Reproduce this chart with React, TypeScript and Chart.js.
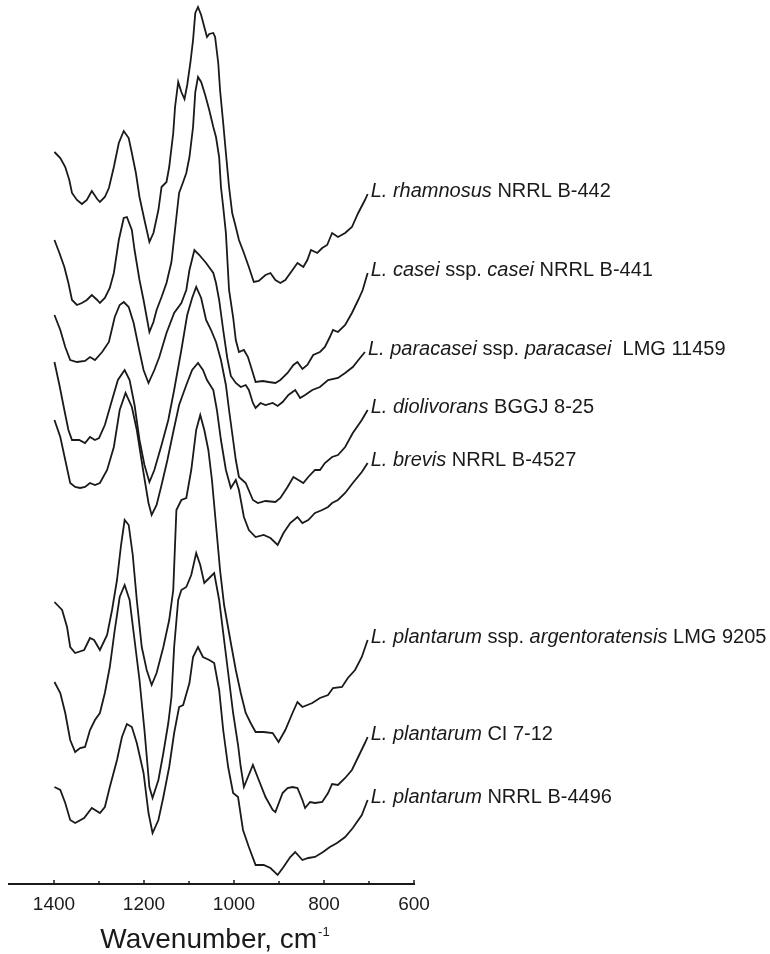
import React, { useEffect, useRef } from "react";
import { Chart, registerables } from "chart.js";

Chart.register(...registerables);

// Wavenumber axis ticks (cm-1)
const wavenumberTicks = [1400, 1300, 1200, 1100, 1000, 900, 800, 700, 600];
const labeledTicks = [1400, 1200, 1000, 800, 600];

// Each spectrum: [wavenumber, offset absorbance]
const rhamnosus: [number, number][] = [
  [1399, 7.32], [1386, 7.26], [1375, 7.17], [1366, 7.04], [1360, 6.91], [1349, 6.84], [1338, 6.80], [1327, 6.84],
  [1316, 6.93], [1304, 6.85], [1298, 6.82], [1287, 6.87], [1278, 6.96], [1267, 7.17], [1256, 7.41], [1245, 7.53],
  [1234, 7.46], [1227, 7.31], [1218, 7.11], [1210, 6.87], [1199, 6.64], [1188, 6.42], [1179, 6.51], [1168, 6.74],
  [1161, 6.97], [1150, 7.02], [1144, 7.17], [1135, 7.51], [1131, 7.77], [1124, 8.02], [1117, 7.92], [1110, 7.85],
  [1104, 7.99], [1097, 8.21], [1091, 8.44], [1086, 8.71], [1080, 8.77], [1073, 8.69], [1066, 8.57], [1060, 8.47],
  [1055, 8.50], [1046, 8.51], [1042, 8.47], [1035, 8.21], [1031, 7.94], [1024, 7.61], [1018, 7.31], [1011, 6.97],
  [1004, 6.71], [996, 6.57], [989, 6.44], [978, 6.31], [967, 6.17], [956, 6.02], [945, 6.03], [930, 6.09],
  [919, 6.11], [908, 6.04], [897, 6.01], [886, 6.04], [870, 6.14], [859, 6.21], [846, 6.17], [837, 6.24],
  [829, 6.34], [815, 6.31], [804, 6.36], [793, 6.39], [782, 6.51], [769, 6.47], [753, 6.51], [738, 6.57],
  [724, 6.71], [709, 6.84], [703, 6.90],
];

const casei: [number, number][] = [
  [1399, 6.44], [1388, 6.31], [1377, 6.17], [1368, 6.01], [1360, 5.84], [1349, 5.79], [1338, 5.81], [1327, 5.84],
  [1316, 5.89], [1304, 5.84], [1298, 5.81], [1287, 5.86], [1276, 5.96], [1267, 6.11], [1256, 6.44], [1245, 6.66],
  [1238, 6.67], [1227, 6.54], [1221, 6.34], [1210, 6.04], [1201, 5.84], [1188, 5.52], [1179, 5.62], [1172, 5.74],
  [1161, 5.87], [1150, 6.01], [1139, 6.22], [1128, 6.67], [1122, 6.91], [1113, 7.02], [1106, 7.11], [1099, 7.27],
  [1091, 7.57], [1086, 7.92], [1080, 8.07], [1073, 8.02], [1064, 7.89], [1055, 7.74], [1046, 7.57], [1040, 7.47],
  [1033, 7.27], [1029, 6.97], [1024, 6.77], [1018, 6.51], [1011, 5.94], [1002, 5.67], [996, 5.44], [989, 5.32],
  [978, 5.34], [969, 5.27], [958, 5.11], [952, 5.02], [936, 5.03], [923, 5.02], [908, 5.01], [897, 5.04],
  [881, 5.11], [868, 5.19], [859, 5.22], [848, 5.15], [837, 5.19], [824, 5.29], [809, 5.32], [798, 5.37],
  [787, 5.47], [780, 5.54], [769, 5.52], [753, 5.59], [738, 5.71], [724, 5.84], [714, 5.94], [703, 6.11],
];

const paracasei: [number, number][] = [
  [1399, 5.69], [1386, 5.54], [1375, 5.37], [1364, 5.24], [1349, 5.22], [1331, 5.23], [1320, 5.27], [1309, 5.24],
  [1293, 5.32], [1278, 5.42], [1265, 5.67], [1254, 5.79], [1245, 5.82], [1234, 5.77], [1223, 5.61], [1212, 5.37],
  [1201, 5.14], [1190, 5.01], [1177, 5.14], [1166, 5.27], [1150, 5.51], [1133, 5.71], [1117, 5.81], [1106, 5.94],
  [1099, 6.14], [1088, 6.34], [1077, 6.29], [1062, 6.21], [1046, 6.11], [1040, 6.01], [1033, 5.84], [1024, 5.54],
  [1015, 5.26], [1007, 5.08], [996, 5.01], [985, 4.97], [974, 4.99], [967, 4.94], [958, 4.81], [952, 4.76],
  [941, 4.81], [930, 4.79], [914, 4.81], [903, 4.78], [892, 4.82], [879, 4.89], [864, 4.94], [853, 4.86],
  [842, 4.89], [826, 4.94], [809, 4.97], [791, 5.04], [769, 5.06], [753, 5.11], [736, 5.17], [720, 5.26],
  [709, 5.32],
];

const diolivorans: [number, number][] = [
  [1399, 5.22], [1388, 4.99], [1377, 4.74], [1368, 4.54], [1360, 4.44], [1344, 4.44], [1331, 4.41], [1320, 4.47],
  [1309, 4.44], [1300, 4.46], [1287, 4.59], [1271, 4.84], [1258, 5.04], [1243, 5.14], [1232, 5.04], [1221, 4.79],
  [1210, 4.44], [1199, 4.19], [1188, 4.02], [1177, 4.14], [1161, 4.39], [1146, 4.64], [1133, 4.94], [1117, 5.34],
  [1104, 5.69], [1093, 5.86], [1084, 5.97], [1073, 5.86], [1062, 5.64], [1051, 5.54], [1040, 5.42], [1029, 5.24],
  [1018, 4.99], [1011, 4.74], [1002, 4.44], [996, 4.24], [989, 4.07], [974, 4.01], [958, 3.84], [947, 3.81],
  [930, 3.83], [908, 3.82], [897, 3.86], [881, 3.97], [868, 4.07], [857, 4.04], [846, 4.01], [835, 4.07],
  [820, 4.14], [809, 4.14], [798, 4.21], [782, 4.27], [769, 4.29], [753, 4.37], [736, 4.51], [716, 4.64],
  [703, 4.74],
];

const brevis: [number, number][] = [
  [1399, 4.64], [1386, 4.47], [1375, 4.24], [1364, 4.01], [1353, 3.97], [1342, 3.96], [1331, 3.97], [1320, 4.01],
  [1309, 3.99], [1298, 4.01], [1282, 4.14], [1267, 4.37], [1254, 4.74], [1241, 4.91], [1227, 4.77], [1216, 4.54],
  [1201, 4.11], [1190, 3.81], [1183, 3.69], [1172, 3.79], [1161, 3.99], [1148, 4.24], [1135, 4.52], [1122, 4.79],
  [1106, 4.99], [1093, 5.14], [1080, 5.21], [1069, 5.14], [1060, 5.04], [1046, 4.94], [1038, 4.74], [1029, 4.44],
  [1018, 4.14], [1007, 3.96], [996, 4.04], [989, 3.94], [978, 3.67], [967, 3.54], [952, 3.47], [934, 3.49],
  [919, 3.46], [903, 3.39], [890, 3.51], [875, 3.61], [859, 3.67], [848, 3.61], [835, 3.64], [820, 3.71],
  [804, 3.74], [791, 3.77], [782, 3.81], [769, 3.84], [753, 3.91], [736, 4.01], [716, 4.12], [703, 4.21],
];

const plantarumArgentoratensis: [number, number][] = [
  [1399, 2.82], [1382, 2.74], [1371, 2.57], [1364, 2.37], [1353, 2.31], [1333, 2.34], [1320, 2.46], [1311, 2.44],
  [1298, 2.34], [1282, 2.49], [1271, 2.74], [1260, 3.04], [1251, 3.39], [1243, 3.64], [1234, 3.59], [1225, 3.29],
  [1216, 2.84], [1205, 2.37], [1194, 2.14], [1183, 1.99], [1172, 2.11], [1157, 2.37], [1144, 2.64], [1135, 2.94],
  [1128, 3.74], [1117, 3.84], [1106, 3.86], [1095, 4.14], [1084, 4.54], [1075, 4.69], [1066, 4.54], [1057, 4.34],
  [1049, 4.04], [1040, 3.59], [1031, 3.14], [1022, 2.79], [1007, 2.41], [996, 2.14], [985, 1.91], [974, 1.71],
  [963, 1.61], [952, 1.52], [934, 1.52], [914, 1.51], [901, 1.42], [886, 1.54], [870, 1.71], [859, 1.82],
  [848, 1.77], [826, 1.81], [809, 1.86], [791, 1.89], [780, 1.96], [760, 1.97], [747, 2.06], [731, 2.14],
  [716, 2.27], [703, 2.44],
];

const plantarumCI: [number, number][] = [
  [1399, 2.02], [1386, 1.91], [1375, 1.71], [1364, 1.44], [1353, 1.32], [1342, 1.36], [1331, 1.37], [1320, 1.54],
  [1309, 1.64], [1298, 1.71], [1287, 1.91], [1276, 2.17], [1265, 2.54], [1254, 2.87], [1243, 2.99], [1232, 2.84],
  [1221, 2.44], [1210, 2.04], [1199, 1.54], [1188, 0.97], [1181, 0.86], [1168, 1.04], [1157, 1.31], [1146, 1.61],
  [1139, 1.87], [1133, 2.37], [1124, 2.84], [1117, 2.94], [1106, 2.97], [1095, 3.09], [1084, 3.31], [1075, 3.19],
  [1066, 3.01], [1055, 3.06], [1044, 3.11], [1033, 2.84], [1022, 2.44], [1011, 2.04], [1002, 1.71], [991, 1.39],
  [985, 1.17], [978, 0.97], [969, 1.07], [958, 1.19], [945, 1.04], [930, 0.87], [914, 0.74], [908, 0.72],
  [892, 0.91], [881, 0.96], [870, 0.97], [859, 0.96], [848, 0.84], [842, 0.76], [831, 0.82], [820, 0.81],
  [804, 0.82], [791, 0.91], [782, 1.00], [769, 0.99], [753, 1.06], [738, 1.14], [724, 1.27], [709, 1.41],
  [703, 1.47],
];

const plantarumNRRL: [number, number][] = [
  [1399, 0.97], [1386, 0.94], [1375, 0.81], [1364, 0.64], [1353, 0.61], [1333, 0.66], [1316, 0.76], [1298, 0.71],
  [1287, 0.77], [1276, 0.97], [1260, 1.24], [1249, 1.47], [1238, 1.60], [1227, 1.57], [1216, 1.41], [1201, 1.11],
  [1190, 0.71], [1181, 0.51], [1168, 0.64], [1157, 0.87], [1144, 1.17], [1133, 1.51], [1122, 1.77], [1113, 1.79],
  [1099, 2.01], [1091, 2.27], [1080, 2.37], [1069, 2.27], [1055, 2.24], [1044, 2.21], [1033, 1.94], [1024, 1.54],
  [1013, 1.17], [1002, 0.91], [991, 0.87], [980, 0.54], [967, 0.37], [952, 0.19], [934, 0.19], [919, 0.16],
  [903, 0.09], [890, 0.17], [875, 0.27], [864, 0.32], [848, 0.24], [835, 0.26], [820, 0.27], [802, 0.32],
  [787, 0.37], [771, 0.41], [753, 0.47], [736, 0.56], [716, 0.69], [703, 0.84],
];

const spectra = [
  rhamnosus, casei, paracasei, diolivorans, brevis,
  plantarumArgentoratensis, plantarumCI, plantarumNRRL,
];

// Label pieces: [text, italic]
const strainLabels: [string, boolean][][] = [
  [["L. rhamnosus", true], [" NRRL B-442", false]],
  [["L. casei", true], [" ssp. ", false], ["casei", true], [" NRRL B-441", false]],
  [["L. paracasei", true], [" ssp. ", false], ["paracasei", true], ["  LMG 11459", false]],
  [["L. diolivorans", true], [" BGGJ 8-25", false]],
  [["L. brevis", true], [" NRRL B-4527", false]],
  [["L. plantarum", true], [" ssp. ", false], ["argentoratensis", true], [" LMG 9205", false]],
  [["L. plantarum", true], [" CI 7-12", false]],
  [["L. plantarum", true], [" NRRL B-4496", false]],
];

const axisTitle = "Wavenumber, cm";
const axisTitleSup = "-1";

const FONT = '"Liberation Sans", Arial, Helvetica, sans-serif';
const INK = "#1a1a1a";

export default function App() {
  const ref = useRef<HTMLCanvasElement>(null);

  useEffect(() => {
    const canvas = ref.current;
    if (!canvas) return;

    const labelPlugin = {
      id: "strainLabels",
      afterDatasetsDraw(chart: any) {
        const ctx = chart.ctx;
        ctx.save();
        ctx.fillStyle = INK;
        ctx.textBaseline = "alphabetic";
        ctx.textAlign = "left";
        chart.data.datasets.forEach((_ds: any, i: number) => {
          const meta = chart.getDatasetMeta(i);
          const last = meta.data[meta.data.length - 1];
          let x = last.x + 3;
          const y = last.y + 3;
          strainLabels[i].forEach(([text, italic]) => {
            ctx.font = `${italic ? "italic " : ""}20px ${FONT}`;
            ctx.fillText(text, x, y);
            x += ctx.measureText(text).width;
          });
        });
        ctx.restore();
      },
    };

    const axisPlugin = {
      id: "axisDecor",
      afterDraw(chart: any) {
        const ctx = chart.ctx;
        const xs = chart.scales.x;
        const area = chart.chartArea;
        const bottom = area.bottom;
        ctx.save();
        ctx.strokeStyle = INK;
        ctx.lineWidth = 1.5;
        wavenumberTicks.forEach((v) => {
          const px = xs.getPixelForValue(v);
          ctx.beginPath();
          ctx.moveTo(px, bottom);
          ctx.lineTo(px, bottom - (labeledTicks.includes(v) ? 4 : 3));
          ctx.stroke();
        });
        ctx.fillStyle = INK;
        ctx.textBaseline = "alphabetic";
        ctx.textAlign = "left";
        ctx.font = `28px ${FONT}`;
        const w1 = ctx.measureText(axisTitle).width;
        ctx.font = `13px ${FONT}`;
        const w2 = ctx.measureText(axisTitleSup).width;
        const cx = (area.left + area.right) / 2 + 3;
        const x0 = cx - (w1 + w2) / 2;
        ctx.font = `28px ${FONT}`;
        ctx.fillText(axisTitle, x0, bottom + 64);
        ctx.font = `13px ${FONT}`;
        ctx.fillText(axisTitleSup, x0 + w1 + 1, bottom + 52);
        ctx.restore();
      },
    };

    const chart = new Chart(canvas, {
      type: "line",
      data: {
        datasets: spectra.map((s) => ({
          data: s.map(([x, y]) => ({ x, y })),
          borderColor: INK,
          borderWidth: 1.8,
          pointRadius: 0,
          tension: 0,
          fill: false,
        })),
      },
      options: {
        animation: false,
        responsive: false,
        maintainAspectRatio: false,
        layout: { padding: { left: 7, right: 356, top: 0, bottom: 0 } },
        plugins: {
          legend: { display: false },
          tooltip: { enabled: false },
        },
        scales: {
          x: {
            type: "linear",
            reverse: true,
            min: 600,
            max: 1500,
            afterFit: (scale: any) => {
              scale.height = 70;
            },
            grid: { display: false, drawTicks: false },
            border: { display: true, color: INK, width: 2 },
            ticks: {
              stepSize: 100,
              autoSkip: false,
              maxRotation: 0,
              padding: 9,
              color: INK,
              font: { family: FONT, size: 19 },
              callback: (v: any) => (labeledTicks.includes(Number(v)) ? String(v) : ""),
            },
          },
          y: {
            type: "linear",
            display: false,
            min: 0,
            max: 8.84,
          },
        },
      },
      plugins: [labelPlugin, axisPlugin],
    } as any);

    return () => chart.destroy();
  }, []);

  return (
    <div
      style={{
        position: "fixed",
        left: 0,
        top: 0,
        width: 770,
        height: 954,
        background: "#fff",
      }}
    >
      <canvas ref={ref} width={770} height={954} style={{ display: "block" }} />
    </div>
  );
}
